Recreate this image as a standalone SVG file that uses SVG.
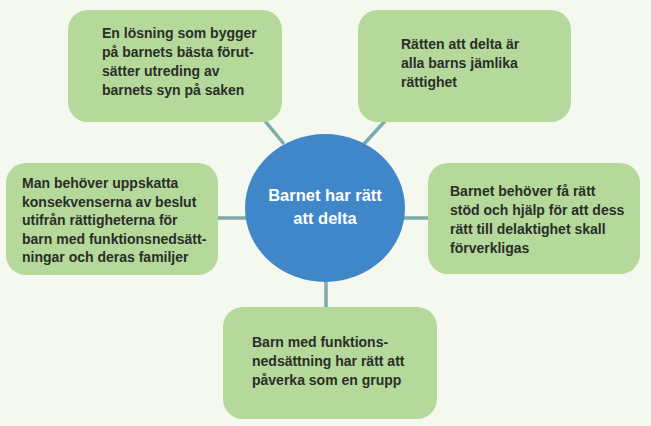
<svg xmlns="http://www.w3.org/2000/svg" width="651" height="426" viewBox="0 0 651 426">
<style>
.box{fill:#b5d89b;}
.t{font-family:"Liberation Sans",Arial,sans-serif;font-weight:bold;font-size:14px;fill:#2a2e28;}
.c{font-family:"Liberation Sans",Arial,sans-serif;font-weight:bold;font-size:16.5px;fill:#ffffff;text-anchor:middle;}
.con{stroke:#7eaaa7;stroke-width:3.5;fill:none;}
</style>
<rect width="651" height="426" fill="#f5f8ee"/>
<g id="connectors">
<line class="con" x1="265" y1="121" x2="284" y2="144"/>
<line class="con" x1="385" y1="121" x2="364" y2="144"/>
<line class="con" x1="217" y1="218" x2="247" y2="218"/>
<line class="con" x1="403" y1="218" x2="429" y2="218"/>
<line class="con" x1="326" y1="280" x2="326" y2="308"/>
</g>
<g id="center">
<ellipse cx="325" cy="208" rx="80" ry="74" fill="#3f87c8"/>
<text class="c" x="325" y="201">Barnet har rätt</text>
<text class="c" x="325" y="224">att delta</text>
</g>
<g id="n1">
<rect class="box" x="68" y="10" width="214" height="112" rx="20"/>
<text class="t" x="102" y="38">En lösning som bygger</text>
<text class="t" x="102" y="57">på barnets bästa förut-</text>
<text class="t" x="102" y="76">sätter utreding av</text>
<text class="t" x="102" y="95">barnets syn på saken</text>
</g>
<g id="n2">
<rect class="box" x="358" y="10" width="213" height="112" rx="20"/>
<text class="t" x="401" y="49">Rätten att delta är</text>
<text class="t" x="401" y="68">alla barns jämlika</text>
<text class="t" x="401" y="87">rättighet</text>
</g>
<g id="n3">
<rect class="box" x="6" y="163" width="212" height="112" rx="20"/>
<text class="t" x="22" y="188">Man behöver uppskatta</text>
<text class="t" x="22" y="207">konsekvenserna av beslut</text>
<text class="t" x="22" y="225">utifrån rättigheterna för</text>
<text class="t" x="22" y="244">barn med funktionsnedsätt-</text>
<text class="t" x="22" y="262">ningar och deras familjer</text>
</g>
<g id="n4">
<rect class="box" x="428" y="163" width="212" height="111" rx="20"/>
<text class="t" x="450" y="196">Barnet behöver få rätt</text>
<text class="t" x="450" y="215">stöd och hjälp för att dess</text>
<text class="t" x="450" y="234">rätt till delaktighet skall</text>
<text class="t" x="450" y="253">förverkligas</text>
</g>
<g id="n5">
<rect class="box" x="223" y="307" width="214" height="112" rx="20"/>
<text class="t" x="252" y="347">Barn med funktions-</text>
<text class="t" x="252" y="366">nedsättning har rätt att</text>
<text class="t" x="252" y="385">påverka som en grupp</text>
</g>
</svg>
